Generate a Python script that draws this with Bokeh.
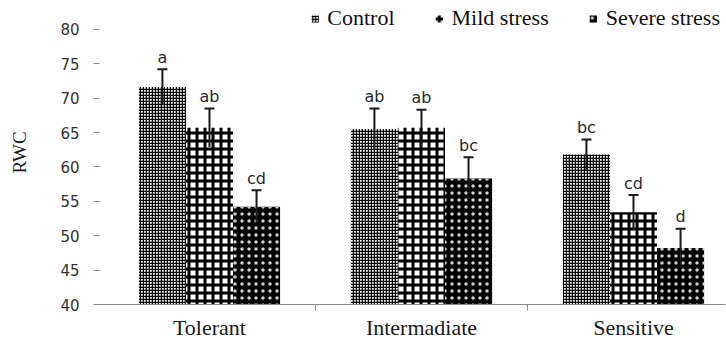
from bokeh.plotting import figure
from bokeh.models import ColumnDataSource, Range1d, FixedTicker, Whisker, TeeHead
from bokeh.core.properties import value
from bokeh.embed import file_html
from bokeh.resources import INLINE

# ---------------- data ----------------
groups = ["Tolerant", "Intermadiate", "Sensitive"]
series = ["Control", "Mild stress", "Severe stress"]

control = [71.6, 65.5, 61.8]
control_err = [2.6, 3.0, 2.2]
mild = [65.7, 65.7, 53.4]
mild_err = [2.8, 2.6, 2.5]
severe = [54.2, 58.3, 48.2]
severe_err = [2.4, 3.1, 2.8]

control_letters = ["a", "ab", "bc"]
mild_letters = ["ab", "ab", "cd"]
severe_letters = ["cd", "bc", "d"]

y_ticks = [40, 45, 50, 55, 60, 65, 70, 75, 80]

# ---------------- styles ----------------
styles = [
    dict(fill_color="white", hatch_pattern="cross", hatch_scale=3, hatch_weight=1.5,
         hatch_color="black"),
    dict(fill_color="white", hatch_pattern="cross", hatch_scale=8, hatch_weight=3,
         hatch_color="black"),
    dict(fill_color="black", hatch_pattern="dot", hatch_scale=7, hatch_weight=1,
         hatch_color="#d0d0d0"),
]
offsets = [-0.222, 0.0, 0.222]
bar_w = 0.222

p = figure(width=726, height=342, title=None,
           x_range=Range1d(-0.047, 2.934), y_range=Range1d(40, 84.19),
           output_backend="svg", toolbar_location=None,
           min_border_left=93, min_border_right=1, min_border_top=0, min_border_bottom=36,
           outline_line_color=None, background_fill_color="white", border_fill_color="white")
p.xgrid.visible = False
p.ygrid.visible = False

all_vals = [control, mild, severe]
all_errs = [control_err, mild_err, severe_err]
all_letters = [control_letters, mild_letters, severe_letters]

for name, vals, errs, lets, st, off in zip(series, all_vals, all_errs, all_letters,
                                           styles, offsets):
    xs = [i + 0.5 + off for i in range(len(groups))]
    src = ColumnDataSource(dict(
        x=xs, top=vals,
        upper=[v + e for v, e in zip(vals, errs)],
        lower=[v - e for v, e in zip(vals, errs)],
        letters=lets,
    ))
    p.vbar(x="x", top="top", bottom=40, width=bar_w, source=src, line_color=None,
           legend_label=name, **st)
    w = Whisker(source=src, base="x", upper="upper", lower="lower", dimension="height",
                line_color="#1a1a1a", line_width=2,
                upper_head=TeeHead(size=10, line_width=2, line_color="#1a1a1a"),
                lower_head=None, level="overlay")
    p.add_layout(w)
    p.text(x="x", y="upper", text="letters", source=src, text_align="center",
           text_baseline="alphabetic", y_offset=-12,
           text_font=value("DejaVu Sans"), text_font_size="16px", text_color="#2a2a2a")

# x axis
xa = p.xaxis[0]
xa.ticker = FixedTicker(ticks=[i + 0.5 for i in range(len(groups))],
                        minor_ticks=[i for i in range(1, len(groups))])
xa.major_label_overrides = {i + 0.5: g for i, g in enumerate(groups)}
xa.axis_line_color = "#8a8a8a"
xa.major_tick_line_color = None
xa.major_tick_in = 0
xa.major_tick_out = 0
xa.minor_tick_line_color = "#8a8a8a"
xa.minor_tick_in = 0
xa.minor_tick_out = 6
xa.major_label_text_font = "Liberation Serif"
xa.major_label_text_font_size = "22px"
xa.major_label_text_color = "#1a1a1a"
xa.major_label_standoff = 4

# y axis
ya = p.yaxis[0]
ya.ticker = FixedTicker(ticks=y_ticks)
ya.minor_tick_line_color = None
ya.axis_line_color = None
ya.major_tick_line_color = "#8a8a8a"
ya.major_tick_in = 6
ya.major_tick_out = 0
ya.major_label_text_font = "DejaVu Sans"
ya.major_label_text_font_size = "15px"
ya.major_label_text_color = "#333333"
ya.major_label_standoff = 14
ya.axis_label = "RWC"
ya.axis_label_text_font = "Liberation Serif"
ya.axis_label_text_font_size = "19px"
ya.axis_label_text_font_style = "normal"
ya.axis_label_text_color = "#1a1a1a"
ya.axis_label_standoff = 27

lg = p.legend[0]
lg.location = "top_right"
lg.orientation = "horizontal"
lg.border_line_color = None
lg.background_fill_alpha = 0
lg.margin = 5
lg.padding = 0
lg.spacing = 40
lg.glyph_width = 9
lg.glyph_height = 9
lg.label_standoff = 8
lg.label_text_font = "Liberation Serif"
lg.label_text_font_size = "22px"
lg.label_text_color = "#111111"

open("out.html", "w").write(file_html(p, INLINE))
